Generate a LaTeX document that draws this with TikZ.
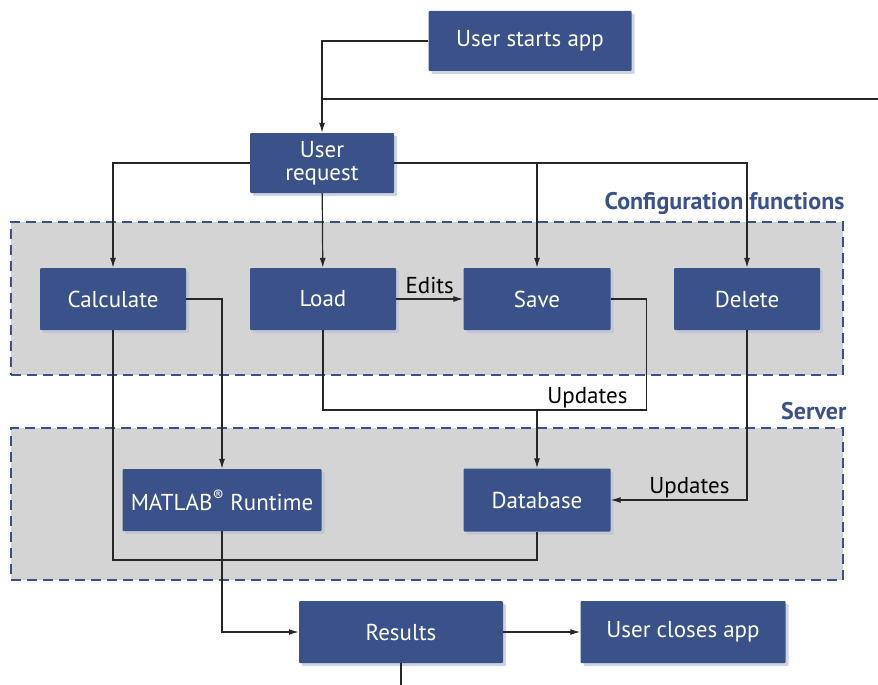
\documentclass[tikz,border=0pt]{standalone}
\usepackage{fontspec}
\setmainfont{PT Sans}
\usepackage{xcolor}
\usepackage{tikz}
\usetikzlibrary{arrows.meta,calc,positioning,shadows}
\definecolor{boxblue}{RGB}{58,81,138}
\definecolor{panelgray}{RGB}{212,212,212}

\begin{document}
\begin{tikzpicture}[x=1pt,y=-1pt,
    box/.style={fill=boxblue, text=white, font=\fontsize{23}{26}\selectfont, align=center,
        inner sep=0pt, rounded corners=1pt,
        drop shadow={shadow xshift=3pt, shadow yshift=-3pt, fill=boxblue!35, opacity=0.7}},
    panel/.style={fill=panelgray, draw=boxblue, line width=2.5pt, dash pattern=on 10pt off 6pt, inner sep=0pt},
    flow/.style={draw=black!85, line width=1.2pt},
    arr/.style={flow, -{Latex[length=10pt,width=6pt]}},
    tag/.style={font=\fontsize{23}{26}\selectfont},
    grp/.style={text=boxblue, font=\fontsize{24}{27}\selectfont\bfseries}]
    \useasboundingbox (0,0) rectangle (878,685);

    % the two dashed groups
    \node[panel, minimum width=832pt, minimum height=153pt] (cfg) at (427,298.5) {};
    \node[panel, minimum width=832pt, minimum height=152pt] (srv) at (427,504) {};
    \node[grp, anchor=base east] at (848,209) {Configuration functions};
    \node[grp, anchor=base east] at (850,419) {Server};

    % steps
    \node[box, minimum width=203pt, minimum height=60pt] (start) at (530,41) {User starts app};
    \node[box, minimum width=144pt, minimum height=60pt] (request) at (322,163) {User\\[-3pt]request};
    \node[box, minimum width=146pt, minimum height=62pt] (calc) at (113,299) {Calculate};
    \node[box, minimum width=146pt, minimum height=62pt] (load) at (323,299) {Load};
    \node[box, minimum width=147pt, minimum height=62pt] (save) at (537,299) {Save};
    \node[box, minimum width=146pt, minimum height=62pt] (delete) at (747,299) {Delete};
    \node[box, minimum width=199pt, minimum height=62pt] (runtime) at (222,500) {MATLAB\textsuperscript{\textregistered} Runtime};
    \node[box, minimum width=147pt, minimum height=63pt] (db) at (537,500) {Database};
    \node[box, minimum width=204pt, minimum height=62pt] (results) at (401,632) {Results};
    \node[box, minimum width=205pt, minimum height=62pt] (close) at (683,632) {User closes app};

    % loose ends and bus lines
    \coordinate (feed) at (878,99);
    \coordinate (upd) at (0,410);
    \coordinate (bus) at (0,560);
    \coordinate (exit) at (401,685);

    \draw[arr] (start.west) -| (request.north);
    \draw[flow] (request.north |- feed) -- (feed);
    \draw[arr] (request.west) -| (calc.north);
    \draw[arr] (request.east) -| (delete.north);
    \draw[arr] (request.east -| save.north) -- (save.north);
    \draw[arr] (request) -- (load);
    \draw[arr] (load) -- node[tag, above=1pt] {Edits} (save);

    \draw[arr] (calc.east) -| (runtime.north);
    \draw[flow] (calc.south) |- (db.south |- bus) -- (db.south);

    \draw[flow] (save.east) -- ++(36,0) |- (load.south |- upd) -- (load.south);
    \node[tag, anchor=base east] at (631,403) {Updates};
    \draw[arr] (db.north |- upd) -- (db.north);

    \draw[arr] (delete.south) |- (db.east);
    \node[tag, anchor=base east] at (733,493) {Updates};

    \draw[arr] (runtime.south) |- (results.west);
    \draw[arr] (results) -- (close);
    \draw[flow] (results) -- (exit);
\end{tikzpicture}
\end{document}
